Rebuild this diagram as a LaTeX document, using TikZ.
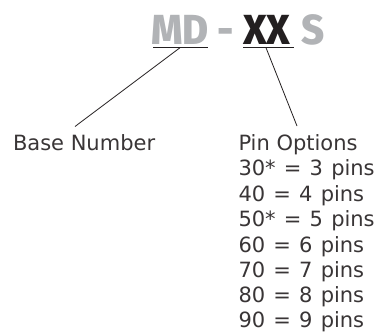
\documentclass[tikz,border=0pt]{standalone}
\usepackage{fontspec}
\setmainfont{DejaVu Sans}
\newfontfamily\headfont[FakeStretch=0.95]{Fira Sans ExtraBold}
\definecolor{hgray}{HTML}{B1B3B6}
\definecolor{hblack}{HTML}{231F20}
\tikzset{
  x=1pt,y=-1pt,
  lbl/.style={inner sep=0pt,outer sep=0pt,anchor=base west,font=\fontsize{21pt}{25.5pt}\selectfont,text=hblack!90},
  pinline/.style={lbl,execute at begin node={\spaceskip=8.2pt\relax}},
  head/.style={inner sep=0pt,outer sep=0pt,anchor=base west,font=\headfont\fontsize{42pt}{42pt}\selectfont},
  rule/.style={line width=1pt,draw=hblack},
  leader/.style={line width=0.8pt,draw=hblack}
}
\begin{document}
\begin{tikzpicture}
\useasboundingbox (0,0) rectangle (378,332);
\node[head,text=hgray] (md) at (151,44) {MD};
\node[head,text=hgray] (dash) at (217,44) {-};
\node[head,text=hblack] (xx) at (243,44) {XX};
\node[head,text=hgray] (s) at (301,44) {S};
\coordinate (mdl) at (153,47.7); \coordinate (mdr) at (208,47.7); \coordinate (mdm) at (180,47.7);
\coordinate (xxl) at (243,47.7); \coordinate (xxr) at (294,47.7); \coordinate (xxm) at (266,47.7);
\draw[rule] (mdl) -- (mdr);
\draw[rule] (xxl) -- (xxr);
\node[lbl] (base) at (13,150) {Base Number};
\node[lbl] (pin0) at (238.5,150) {Pin Options};
\node[pinline] (pin1) at (238.5,175.5) {30* = 3 pins};
\node[pinline] (pin2) at (238.5,201) {40 = 4 pins};
\node[pinline] (pin3) at (238.5,226.5) {50* = 5 pins};
\node[pinline] (pin4) at (238.5,252) {60 = 6 pins};
\node[pinline] (pin5) at (238.5,277) {70 = 7 pins};
\node[pinline] (pin6) at (238.5,302.5) {80 = 8 pins};
\node[pinline] (pin7) at (238.5,327.5) {90 = 9 pins};
\coordinate (baseend) at (75,126.5);
\coordinate (pinend) at (297,126);
\draw[leader] (mdm) -- (baseend);
\draw[leader] (xxm) -- (pinend);
\end{tikzpicture}
\end{document}
